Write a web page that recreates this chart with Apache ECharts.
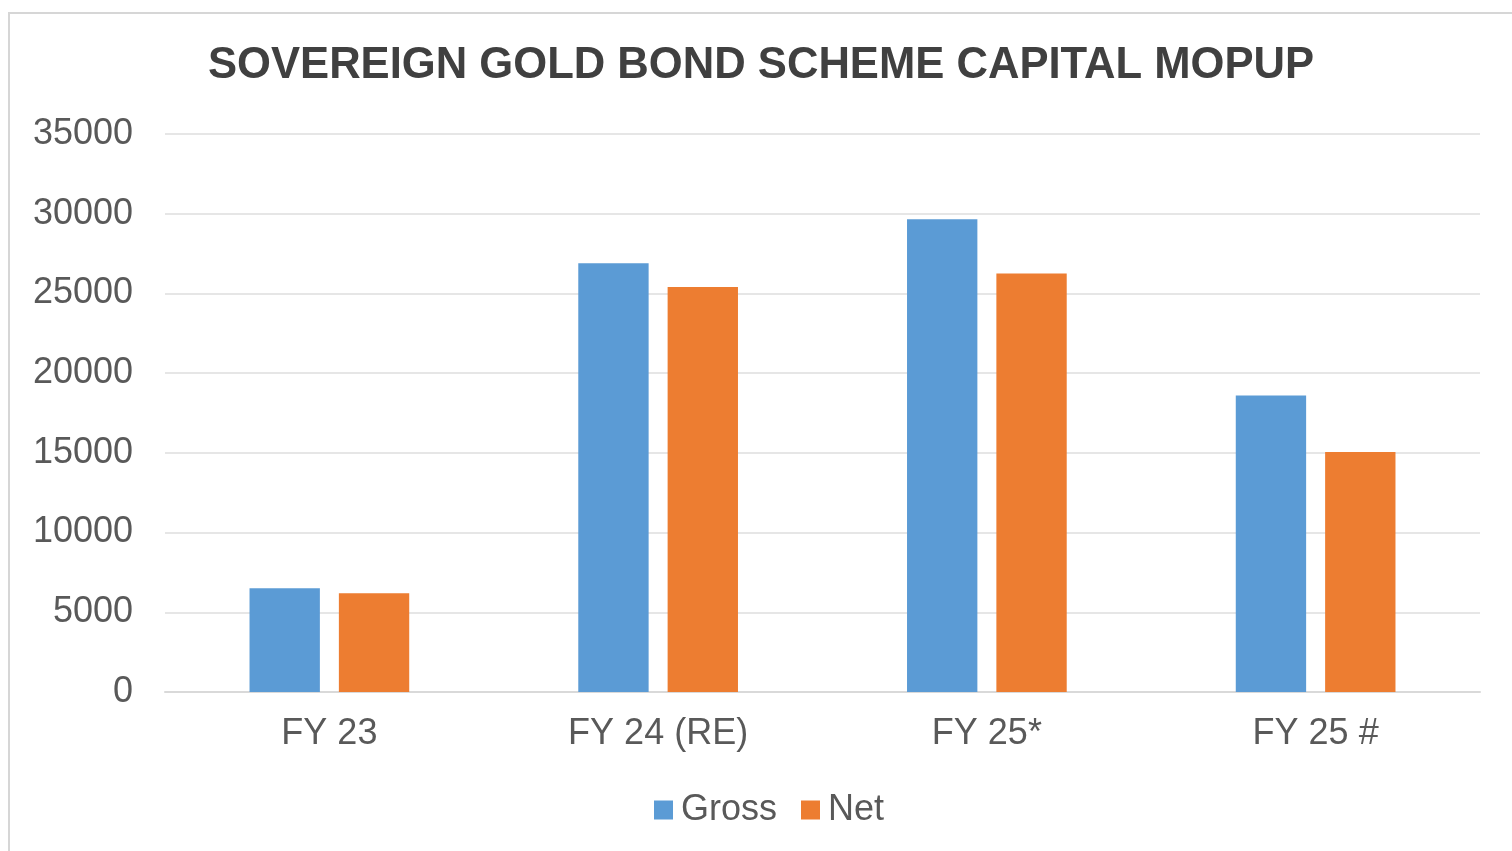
<!DOCTYPE html>
<html>
<head>
<meta charset="utf-8">
<script src="https://cdn.jsdelivr.net/npm/echarts@6/dist/echarts.min.js"></script>
<style>
  html, body { margin: 0; padding: 0; background: #fff; }
  #chart { width: 1512px; height: 851px; }
</style>
</head>
<body>
<div id="chart"></div>
<script>
const categories = ['FY 23', 'FY 24 (RE)', 'FY 25*', 'FY 25 #'];
const grossValues = [6500, 26900, 29650, 18600];
const netValues = [6200, 25400, 26250, 15050];
const yTicks = { min: 0, max: 35000, interval: 5000 };

const chart = echarts.init(document.getElementById('chart'));
const font = "'Liberation Sans', Arial, sans-serif";

const option = {
  backgroundColor: '#fff',
  animation: false,
  title: {
    text: 'SOVEREIGN GOLD BOND SCHEME CAPITAL MOPUP',
    left: 203,
    top: 39,
    textStyle: {
      fontFamily: font,
      fontSize: 43.6,
      fontWeight: 'bold',
      color: '#404040',
    },
  },
  legend: {
    data: ['Gross', 'Net'],
    bottom: 18,
    left: 649,
    itemWidth: 19,
    itemHeight: 19,
    itemGap: 24,
    icon: 'rect',
    textStyle: {
      fontFamily: font,
      fontSize: 36,
      color: '#595959',
      padding: [0, 0, 0, 3],
    },
  },
  grid: {
    left: 165,
    right: 32,
    top: 134,
    bottom: 159,
  },
  xAxis: {
    type: 'category',
    data: categories,
    axisLine: { lineStyle: { color: '#d9d9d9', width: 2 } },
    axisTick: { show: false },
    axisLabel: {
      margin: 24,
      fontFamily: font,
      fontSize: 36,
      color: '#595959',
    },
  },
  yAxis: {
    type: 'value',
    min: yTicks.min,
    max: yTicks.max,
    interval: yTicks.interval,
    axisLine: { show: false },
    axisTick: { show: false },
    splitLine: { lineStyle: { color: '#e6e6e6', width: 2 } },
    axisLabel: {
      margin: 32,
      fontFamily: font,
      fontSize: 36,
      color: '#595959',
      formatter: value => String(value),
    },
  },
  series: [
    {
      name: 'Gross',
      type: 'bar',
      data: grossValues,
      barWidth: '21.4%',
      barGap: '27%',
      itemStyle: { color: '#5b9bd5' },
    },
    {
      name: 'Net',
      type: 'bar',
      data: netValues,
      barWidth: '21.4%',
      itemStyle: { color: '#ed7d31' },
    },
  ],
  graphic: [
    {
      type: 'rect',
      shape: { x: 9, y: 13, width: 1600, height: 900 },
      style: { fill: 'none', stroke: '#d6d6d6', lineWidth: 2 },
      silent: true,
    },
  ],
};

chart.setOption(option);
</script>
</body>
</html>
